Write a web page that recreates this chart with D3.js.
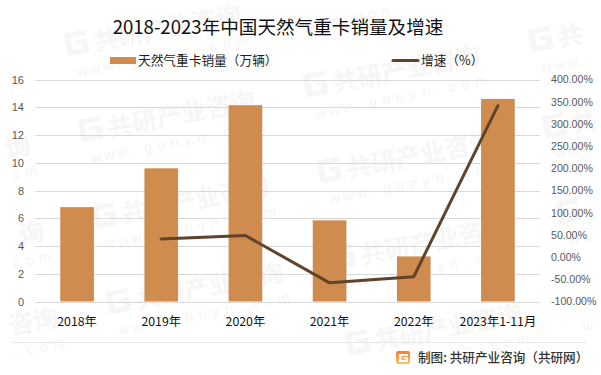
<!DOCTYPE html>
<html><head><meta charset="utf-8">
<script src="https://cdn.jsdelivr.net/npm/d3@7"></script>
<style>html,body{margin:0;padding:0;background:#fff}svg{display:block}text{font-family:"Noto Sans CJK SC","DejaVu Sans",sans-serif}</style>
</head><body><svg id="c" width="601" height="375"></svg>
<script>
const categories=["2018年","2019年","2020年","2021年","2022年","2023年1-11月"];
const sales=[6.8,9.6,14.15,5.85,3.25,14.6];
const growth=[null,41,48.5,-58,-44,341];
const leftTicks=[0,2,4,6,8,10,12,14,16];
const rightTicks=[-100,-50,0,50,100,150,200,250,300,350,400];
const title="2018-2023年中国天然气重卡销量及增速";
const salesName="天然气重卡销量（万辆）";
const growthName="增速（%）";
const credit="制图: 共研产业咨询（共研网）";
const wmName="共研产业咨询";
const wmUrl="www.gonyn.com";

const svg=d3.select("#c");
const F='"Liberation Sans","Noto Sans CJK SC",sans-serif';
const L=35,R=540,T=79.5,B=301.5;
const x=d3.scaleBand().domain(categories).range([L,R]).paddingInner(0.6).paddingOuter(0.3);
const yL=d3.scaleLinear().domain([0,16]).range([B,T]);
const yR=d3.scaleLinear().domain([-100,400]).range([B,T]);

// watermark lattice: each glyph placed alone, glyphs that would cross the picture edge are left out
const wm=svg.append("g");
const rad=11*Math.PI/180;
function glyphs(g,px,py,str,x0,step,y0,size,weight,fill,fam){
  Array.from(str).forEach((ch,k)=>{
    const lx=x0+k*step;
    const ax=px+lx*Math.cos(rad)+y0*Math.sin(rad);
    const ay=py-lx*Math.sin(rad)+y0*Math.cos(rad);
    if(ax<2||ax+size>599||ay-size<2||ay+3>373)return;
    const t=g.append("text").attr("x",lx).attr("y",y0).attr("font-size",size).attr("font-weight",weight).attr("fill",fill).text(ch);
    if(fam)t.style("font-family",fam);
  });
}
for(let i=-1;i<4;i++)for(let j=-1;j<5;j++){
  const px=65+i*225+j*14, py=52-i*45+j*86;
  const g=wm.append("g").attr("transform",`translate(${px},${py}) rotate(-11)`);
  if(px>0&&px+28<599&&py>22&&py<368)
    g.append("path").attr("d","M2 -18H24V-13H8V0H18V-5H13V-9H24V5H2Z").attr("fill","#f6f6f6");
  glyphs(g,px,py,wmName,30,25,5,25,700,"#f6f6f6");
  glyphs(g,px,py,wmUrl,8,13.5,27,14,400,"#f4f4f4",F);
}

// grid
svg.append("g").selectAll("line").data(leftTicks).join("line")
  .attr("x1",L).attr("x2",R).attr("y1",d=>Math.round(yL(d))+.5).attr("y2",d=>Math.round(yL(d))+.5)
  .attr("stroke","#d9d9d9").attr("stroke-width",1);

// bars
svg.append("g").selectAll("rect").data(sales).join("rect")
  .attr("x",(d,i)=>x(categories[i])).attr("width",x.bandwidth())
  .attr("y",d=>yL(d)).attr("height",d=>yL(0)-yL(d)).attr("fill","#d08c4f");

// line
const line=d3.line().defined(d=>d!=null).x((d,i)=>x(categories[i])+x.bandwidth()/2).y(d=>yR(d));
svg.append("path").attr("d",line(growth)).attr("fill","none").attr("stroke","#5f432b").attr("stroke-width",3).attr("stroke-linecap","round").attr("stroke-linejoin","round");

// axes
const axL=d3.axisLeft(yL).tickValues(leftTicks).tickSize(0).tickPadding(0);
const gL=svg.append("g").attr("transform",`translate(24,0)`).call(axL);
gL.select(".domain").remove();
gL.selectAll("text").attr("fill","#595959").style("font-size","11px").style("font-family",F);
const axR=d3.axisRight(yR).tickValues(rightTicks).tickSize(0).tickPadding(0).tickFormat(d=>d.toFixed(2)+"%");
const gR=svg.append("g").attr("transform",`translate(551,0)`).call(axR);
gR.select(".domain").remove();
gR.selectAll("text").attr("fill","#595959").style("font-size","10.6px").style("font-family",F);
const axB=d3.axisBottom(x).tickSize(0).tickPadding(0);
const gB=svg.append("g").attr("transform",`translate(0,${B+19})`).call(axB);
gB.select(".domain").remove();
gB.selectAll("text").attr("fill","#111").style("font-size","12.3px").attr("dy",".42em");

// title
svg.append("text").attr("x",278).attr("y",34).attr("text-anchor","middle").attr("font-size",18.6).attr("fill","#111").text(title);

// legend
svg.append("rect").attr("x",110).attr("y",57).attr("width",26).attr("height",7).attr("fill","#d08c4f");
svg.append("text").attr("x",138).attr("y",65).attr("font-size",12.7).attr("fill","#222").text(salesName);
svg.append("line").attr("x1",393).attr("x2",418).attr("y1",60.5).attr("y2",60.5).attr("stroke","#5f432b").attr("stroke-width",3).attr("stroke-linecap","round");
svg.append("text").attr("x",421).attr("y",65).attr("font-size",12.7).attr("fill","#222").text(growthName);

// footer
svg.append("line").attr("x1",13).attr("x2",586).attr("y1",342.5).attr("y2",342.5).attr("stroke","#e6e6e6");
const grad=svg.append("defs").append("linearGradient").attr("id","lg").attr("x1",0).attr("y1",0).attr("x2",0).attr("y2",1);
grad.append("stop").attr("offset",0).attr("stop-color","#ee7d3b");
grad.append("stop").attr("offset",1).attr("stop-color","#f8c65c");
const lg=svg.append("g").attr("transform","translate(396,351)");
lg.append("path").attr("d","M0 2Q0 0 2 0H12Q14 0 14 2V11Q14 13 12 13H2Q0 13 0 11Z").attr("fill","url(#lg)");
lg.append("path").attr("d","M3 3H12V5H5.5V9H9.5V7.5H7V6H12V11H3Z").attr("fill","#fff");
svg.append("text").attr("x",418).attr("y",362).attr("font-size",12.6).attr("font-weight",500).attr("fill","#333").text(credit);
</script></body></html>
